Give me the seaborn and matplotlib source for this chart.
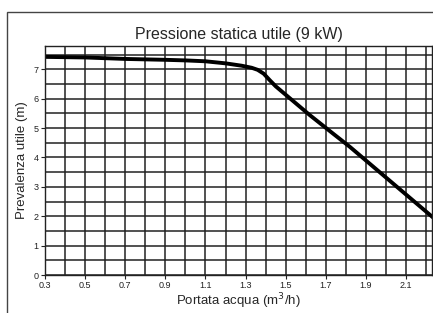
import pandas as pd
import matplotlib
matplotlib.use("Agg")
import matplotlib.pyplot as plt
import seaborn as sns
from matplotlib.patches import Rectangle
from matplotlib.ticker import MultipleLocator

# DATA

portata = [0.3, 0.5, 0.7, 0.9, 1.0, 1.1, 1.2, 1.28, 1.33, 1.36, 1.39, 1.42, 1.45, 1.62, 1.74, 1.82, 2.25]
prevalenza = [7.42, 7.40, 7.35, 7.32, 7.30, 7.27, 7.20, 7.12, 7.05, 6.98, 6.85, 6.63, 6.42, 5.44, 4.79, 4.36, 1.87]

x_ticks = [0.3, 0.5, 0.7, 0.9, 1.1, 1.3, 1.5, 1.7, 1.9, 2.1]
x_tick_labels = ["0.3", "0.5", "0.7", "0.9", "1.1", "1.3", "1.5", "1.7", "1.9", "2.1"]
y_ticks = [0, 1, 2, 3, 4, 5, 6, 7]

df = pd.DataFrame({"Portata": portata, "Prevalenza": prevalenza})

# STYLE

sns.set_style("white")
plt.rcParams["font.family"] = ["Liberation Sans", "DejaVu Sans"]

fig = plt.figure(figsize=(4.33, 3.13), dpi=100)
ax = fig.add_axes([0.104, 0.121, 0.894, 0.733])

# Outer frame
fig.patches.append(Rectangle((0.016, -0.01), 1.2, 0.972, transform=fig.transFigure,
                             fill=False, edgecolor="#444444", linewidth=1.0))

# Grid
ax.set_xlim(0.3, 2.23)
ax.set_ylim(0, 7.8)
ax.xaxis.set_minor_locator(MultipleLocator(0.1))
ax.yaxis.set_minor_locator(MultipleLocator(0.5))
ax.grid(which="both", color="#222222", linewidth=1.1)
ax.set_axisbelow(True)

sns.lineplot(data=df, x="Portata", y="Prevalenza", color="black",
             linewidth=2.8, ax=ax, solid_joinstyle="round")

ax.set_xticks(x_ticks)
ax.set_xticklabels(x_tick_labels)
ax.set_yticks(y_ticks)
ax.tick_params(axis="both", which="major", labelsize=6.5, length=3, width=0.8,
               direction="out", left=True, bottom=True, pad=1.5, colors="#222222")
ax.tick_params(axis="both", which="minor", length=0)

for s in ax.spines.values():
    s.set_color("#222222")
    s.set_linewidth(1.0)

ax.set_xlabel("Portata acqua (m$^3$/h)", fontsize=9.5, labelpad=1)
ax.set_ylabel("Prevalenza utile (m)", fontsize=9.5, labelpad=4)
ax.set_title("Pressione statica utile (9 kW)", fontsize=11.5, pad=5)

fig.savefig("out.png", dpi=100)
